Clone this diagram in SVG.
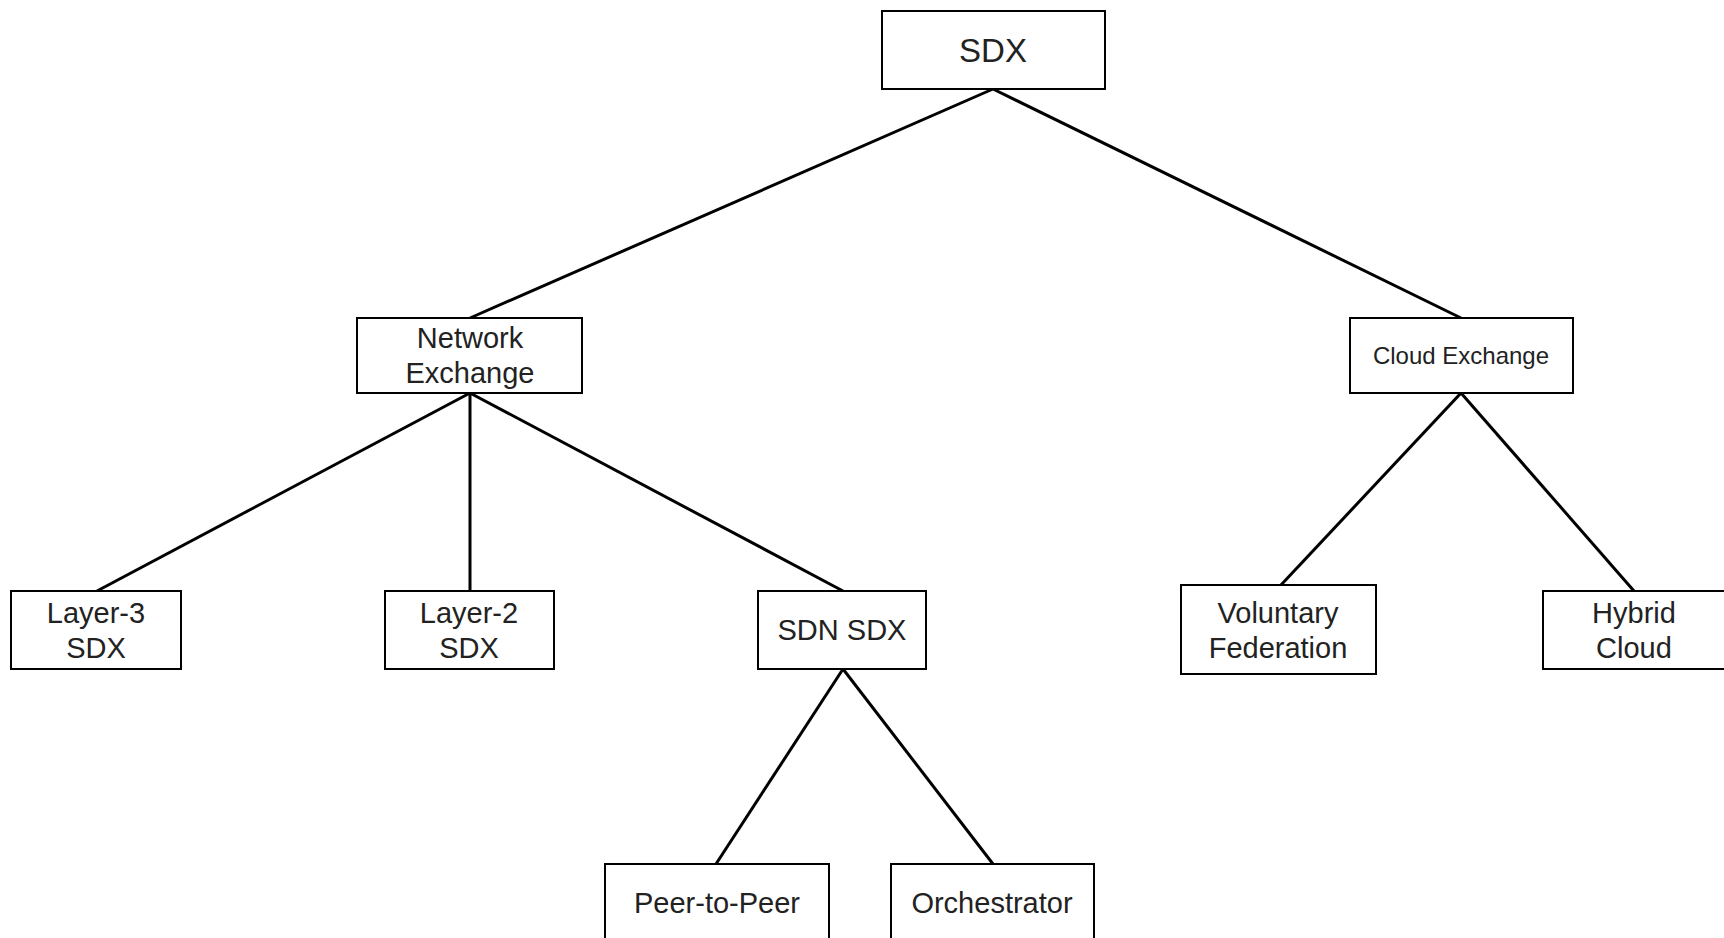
<svg xmlns="http://www.w3.org/2000/svg" width="1724" height="938" viewBox="0 0 1724 938">
<style>
.box{fill:#fff;stroke:#000;stroke-width:2}
.lbl{font-family:"Liberation Sans",Arial,sans-serif;font-size:29px;fill:#222;text-anchor:middle}
.edge{stroke:#000;stroke-width:3;fill:none}
</style>
<rect width="1724" height="938" fill="#fff"/>
<g id="connectors">
<line class="edge" x1="993" y1="89" x2="470" y2="318"/>
<line class="edge" x1="993" y1="89" x2="1461" y2="318"/>
<line class="edge" x1="470" y1="393" x2="97" y2="591"/>
<line class="edge" x1="470" y1="393" x2="470" y2="591"/>
<line class="edge" x1="470" y1="393" x2="843" y2="591"/>
<line class="edge" x1="1461" y1="393" x2="1281" y2="585"/>
<line class="edge" x1="1461" y1="393" x2="1634" y2="591"/>
<line class="edge" x1="843" y1="669" x2="716" y2="864"/>
<line class="edge" x1="843" y1="669" x2="993" y2="864"/>
</g>
<g id="sdx">
<rect class="box" x="882" y="11" width="223" height="78"/>
<text class="lbl" x="993" y="62" style="font-size:33px">SDX</text>
</g>
<g id="network-exchange">
<rect class="box" x="357" y="318" width="225" height="75"/>
<text class="lbl" x="470" y="348">Network</text>
<text class="lbl" x="470" y="383">Exchange</text>
</g>
<g id="cloud-exchange">
<rect class="box" x="1350" y="318" width="223" height="75"/>
<text class="lbl" x="1461" y="364" style="font-size:24px">Cloud Exchange</text>
</g>
<g id="layer3-sdx">
<rect class="box" x="11" y="591" width="170" height="78"/>
<text class="lbl" x="96" y="623">Layer-3</text>
<text class="lbl" x="96" y="658">SDX</text>
</g>
<g id="layer2-sdx">
<rect class="box" x="385" y="591" width="169" height="78"/>
<text class="lbl" x="469" y="623">Layer-2</text>
<text class="lbl" x="469" y="658">SDX</text>
</g>
<g id="sdn-sdx">
<rect class="box" x="758" y="591" width="168" height="78"/>
<text class="lbl" x="842" y="640">SDN SDX</text>
</g>
<g id="voluntary-federation">
<rect class="box" x="1181" y="585" width="195" height="89"/>
<text class="lbl" x="1278" y="623">Voluntary</text>
<text class="lbl" x="1278" y="658">Federation</text>
</g>
<g id="hybrid-cloud">
<rect class="box" x="1543" y="591" width="182" height="78"/>
<text class="lbl" x="1634" y="623">Hybrid</text>
<text class="lbl" x="1634" y="658">Cloud</text>
</g>
<g id="peer-to-peer">
<rect class="box" x="605" y="864" width="224" height="90"/>
<text class="lbl" x="717" y="913">Peer-to-Peer</text>
</g>
<g id="orchestrator">
<rect class="box" x="891" y="864" width="203" height="90"/>
<text class="lbl" x="992" y="913">Orchestrator</text>
</g>
</svg>
